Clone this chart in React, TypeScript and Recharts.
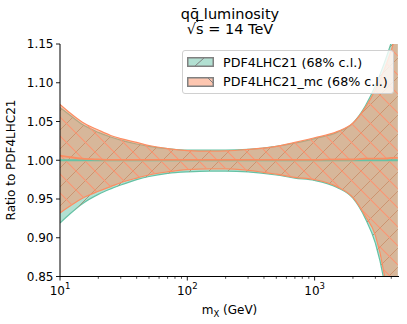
import React from 'react';
import { ComposedChart, Area, Line, XAxis, YAxis } from 'recharts';

// values
const massGeV = [10, 12, 15, 20, 25, 30, 40, 50, 70, 100, 150, 200, 300, 500, 700, 1000, 1500, 2000, 2500, 3000, 3500, 4000, 4500];

const pdfUpper = [1.068, 1.058, 1.046, 1.036, 1.030, 1.026, 1.021, 1.018, 1.015, 1.013, 1.013, 1.013, 1.014, 1.018, 1.022, 1.028, 1.036, 1.048, 1.070, 1.096, 1.124, 1.152, 1.180];
const pdfLower = [0.919, 0.931, 0.944, 0.956, 0.963, 0.968, 0.975, 0.979, 0.983, 0.985, 0.986, 0.986, 0.985, 0.981, 0.977, 0.974, 0.965, 0.951, 0.925, 0.893, 0.845, 0.770, 0.680];
const pdfCentral = [1.0, 1.0, 1.0, 1.0, 1.0, 1.0, 1.0, 1.0, 1.0, 1.0, 1.0, 1.0, 1.0, 1.0, 1.0, 1.0, 1.0, 1.0, 1.0, 1.0, 1.0, 1.0, 1.0];

const mcUpper = [1.072, 1.061, 1.049, 1.039, 1.032, 1.028, 1.023, 1.019, 1.015, 1.0125, 1.0117, 1.012, 1.014, 1.018, 1.023, 1.029, 1.037, 1.048, 1.068, 1.091, 1.116, 1.142, 1.170];
const mcLower = [0.932, 0.941, 0.951, 0.960, 0.966, 0.971, 0.977, 0.981, 0.985, 0.988, 0.989, 0.989, 0.987, 0.982, 0.978, 0.975, 0.966, 0.952, 0.928, 0.903, 0.855, 0.780, 0.690];
const mcCentral = [1.006, 1.004, 1.002, 1.001, 1.0005, 1.0005, 1.0005, 1.0005, 1.0005, 1.0005, 1.0005, 1.0005, 1.0005, 1.0005, 1.0005, 1.0005, 1.001, 1.001, 1.002, 1.002, 1.002, 1.003, 1.003];

const yTicks = [0.85, 0.9, 0.95, 1.0, 1.05, 1.1, 1.15];
const xMajor = [10, 100, 1000];
const xTicks = [10, 20, 30, 40, 50, 60, 70, 80, 90, 100, 200, 300, 400, 500, 600, 700, 800, 900, 1000, 2000, 3000, 4000];

const legendLabels = ['PDF4LHC21 (68% c.l.)', 'PDF4LHC21_mc (68% c.l.)'];

const TEAL = '#66c2a5';
const ORANGE = '#fc8d62';
const FONT = '"DejaVu Sans", sans-serif';

const data = massGeV.map((m, i) => ({
  m,
  pdf: [pdfLower[i], pdfUpper[i]],
  mc: [mcLower[i], mcUpper[i]],
  pdfC: pdfCentral[i],
  mcC: mcCentral[i],
}));

const XTick = (props: any) => {
  const { x, y, payload } = props;
  const major = xMajor.includes(payload.value);
  return (
    <g>
      <line x1={x} x2={x} y1={y} y2={y + (major ? 4 : 2.3)} stroke="#000" strokeWidth={major ? 0.9 : 0.7} />
      {major && (
        <text x={x} y={y + 18} textAnchor="middle" fontFamily={FONT} fontSize={12} fill="#000">
          10<tspan dy={-5.5} fontSize={8.5}>{Math.round(Math.log10(payload.value))}</tspan>
        </text>
      )}
    </g>
  );
};

const YTick = (props: any) => {
  const { x, y, payload } = props;
  return (
    <g>
      <line x1={x - 4} x2={x} y1={y} y2={y} stroke="#000" strokeWidth={0.9} />
      <text x={x - 6.5} y={y + 4.3} textAnchor="end" fontFamily={FONT} fontSize={12} fill="#000">
        {payload.value.toFixed(2)}
      </text>
    </g>
  );
};

const App = () => {
  return (
    <div style={{ position: 'absolute', left: 0, top: 0, width: 407, height: 324, background: '#fff', fontFamily: FONT }}>
      <div style={{ position: 'absolute', left: 130, width: 200, top: 7, textAlign: 'center', fontSize: 14.5, lineHeight: '15px', color: '#000' }}>
        <div>qq&#x0304; luminosity</div>
        <div>
          √<span style={{ textDecoration: 'overline' }}>s</span> = 14 TeV
        </div>
      </div>
      <ComposedChart width={407} height={324} data={data} margin={{ top: 44, right: 8, left: 8, bottom: 8 }}>
        <defs>
          <pattern id="hatchTeal" patternUnits="userSpaceOnUse" width={19} height={19}>
            <path d="M0,19 L19,0 M-5,5 L5,-5 M14,24 L24,14" stroke="#9c9a7e" strokeWidth={1} />
          </pattern>
          <pattern id="hatchOrange" patternUnits="userSpaceOnUse" width={19} height={19}>
            <path d="M0,0 L19,19 M-5,14 L5,24 M14,-5 L24,5" stroke="#fb9572" strokeWidth={1.1} />
          </pattern>
        </defs>
        <XAxis
          dataKey="m"
          type="number"
          scale="log"
          domain={[10, 4600]}
          allowDataOverflow
          ticks={xTicks}
          interval={0}
          tick={<XTick />}
          tickLine={false}
          tickSize={0}
          tickMargin={0}
          height={39.5}
          axisLine={{ stroke: '#000', strokeWidth: 1 }}
          label={{
            content: () => (
              <text x={229.5} y={314} textAnchor="middle" fontFamily={FONT} fontSize={12} fill="#000">
                m<tspan dy={2.5} fontSize={8.5}>X</tspan>
                <tspan dy={-2.5}> (GeV)</tspan>
              </text>
            ),
          }}
        />
        <YAxis
          type="number"
          domain={[0.85, 1.15]}
          allowDataOverflow
          ticks={yTicks}
          interval={0}
          tick={<YTick />}
          tickLine={false}
          tickSize={0}
          tickMargin={0}
          width={52}
          axisLine={{ stroke: '#000', strokeWidth: 1 }}
          label={{
            content: () => (
              <text x={15} y={160} textAnchor="middle" fontFamily={FONT} fontSize={12} fill="#000" transform="rotate(-90 15 160)">
                Ratio to PDF4LHC21
              </text>
            ),
          }}
        />
        <Area type="monotone" dataKey="pdf" fill={TEAL} fillOpacity={0.5} stroke={TEAL} strokeWidth={1.2} isAnimationActive={false} dot={false} activeDot={false} />
        <Area type="monotone" dataKey="pdf" fill="url(#hatchTeal)" fillOpacity={1} stroke="none" isAnimationActive={false} dot={false} activeDot={false} />
        <Area type="monotone" dataKey="mc" fill={ORANGE} fillOpacity={0.5} stroke={ORANGE} strokeWidth={1.2} isAnimationActive={false} dot={false} activeDot={false} />
        <Area type="monotone" dataKey="mc" fill="url(#hatchOrange)" fillOpacity={1} stroke="none" isAnimationActive={false} dot={false} activeDot={false} />
        <Line type="monotone" dataKey="pdfC" stroke={TEAL} strokeWidth={2} dot={false} isAnimationActive={false} />
        <Line type="monotone" dataKey="mcC" stroke={ORANGE} strokeWidth={1.8} dot={false} isAnimationActive={false} />
      </ComposedChart>
      <div
        style={{
          position: 'absolute',
          left: 182,
          top: 50,
          width: 210,
          height: 42,
          border: '1px solid #d0d0d0',
          borderRadius: 3,
          background: 'rgba(255,255,255,0.8)',
        }}
      >
        {legendLabels.map((label, i) => (
          <div key={label} style={{ position: 'absolute', left: 4, top: 6 + i * 19.5, height: 10, display: 'flex', alignItems: 'center' }}>
            <svg width={27} height={10} style={{ display: 'block', flexShrink: 0 }}>
              <rect x={0.75} y={0.75} width={25.5} height={8.5} fill={i === 0 ? '#b2e0d2' : '#fdc6b0'} stroke="#808080" strokeWidth={1.5} />
              {i === 0 ? (
                <path d="M8,9 L17,1" stroke="#808080" strokeWidth={1} />
              ) : (
                <path d="M21,1 L26,6" stroke="#808080" strokeWidth={1} />
              )}
            </svg>
            <span style={{ marginLeft: 9, fontSize: 12.7, color: '#000', whiteSpace: 'nowrap' }}>{label}</span>
          </div>
        ))}
      </div>
    </div>
  );
};

export default App;
